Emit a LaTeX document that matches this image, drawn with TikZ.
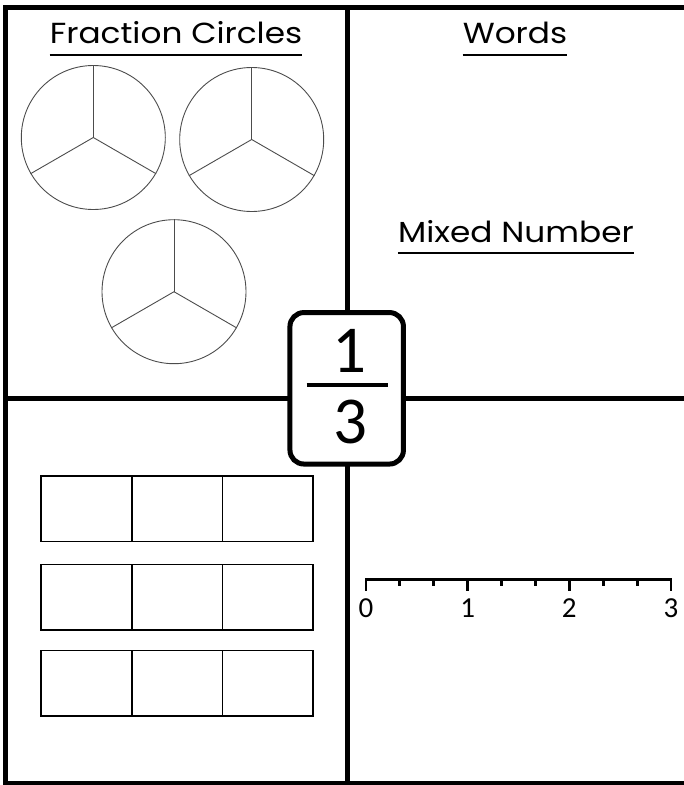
\documentclass[tikz,border=0pt]{standalone}
\usepackage{fontspec}
\newfontfamily\titlefont{Poppins}
\newfontfamily\numfont{Carlito}
\newcommand{\widetitle}[1]{\scalebox{1.13}[1]{#1}}
\begin{document}
\begin{tikzpicture}[x=1pt,y=-1pt,
  frame/.style={line width=5pt},
  pie/.style={draw=black!70, line width=0.9pt},
  barbox/.style={draw=black, line width=1.5pt},
  title/.style={inner sep=0pt, anchor=base, font=\titlefont\fontsize{29}{32}\selectfont},
  uline/.style={line width=2.2pt},
  numlab/.style={inner sep=0pt, anchor=base, font=\numfont\fontsize{29}{32}\selectfont},
  fracnum/.style={inner sep=0pt, anchor=base, font=\numfont\fontsize{67}{72}\selectfont}]
\useasboundingbox (0,0) rectangle (684,785);
% frame
\draw[frame] (684,7) -- (5.5,7) -- (5.5,783) -- (684,783);
\coordinate (vt) at (347,7);
\coordinate (vb) at (347,783);
\coordinate (hl) at (5.5,398);
\coordinate (hr) at (684,398);
\draw[frame] (vt) -- (vb);
\draw[frame] (hl) -- (hr);
% titles
\node[title] (t1) at (176,43) {\widetitle{Fraction Circles}};
\draw[uline] ([yshift=-12pt]t1.base west) -- ([yshift=-12pt]t1.base east);
\node[title] (t2) at (515,43) {\widetitle{Words}};
\draw[uline] ([yshift=-12pt]t2.base west) -- ([yshift=-12pt]t2.base east);
\node[title] (t3) at (516,242) {\widetitle{Mixed Number}};
\draw[uline] ([yshift=-11pt]t3.base west) -- ([yshift=-11pt]t3.base east);
% fraction circles
\foreach \cx/\cy/\n in {93.3/137.5/c1, 251.7/139.5/c2, 174/291.7/c3}{
  \node[pie, circle, minimum size=144pt, inner sep=0pt] (\n) at (\cx,\cy) {};
  \draw[pie] (\n.center) -- (\n.90);
  \draw[pie] (\n.center) -- (\n.210);
  \draw[pie] (\n.center) -- (\n.330);
}
% bar models
\foreach \ty/\r in {475/r1, 563.5/r2, 649.5/r3}{
  \foreach \x/\k in {40/a, 131/b, 221.7/c}{
    \node[barbox, rectangle, anchor=north west, minimum width=90.5pt, minimum height=65.5pt, inner sep=0pt] (\r\k) at (\x,\ty) {};
  }
}
% number line
\coordinate (n0) at (366,579.5);
\coordinate (n3) at (671,579.5);
\draw[line width=2.8pt] (n0) -- (n3);
\foreach \i in {0,...,9}{
  \pgfmathsetmacro{\xx}{366+305*\i/9}
  \pgfmathtruncatemacro{\m}{mod(\i,3)}
  \ifnum\m=0
    \draw[line width=2.8pt] (\xx,578) -- (\xx,591);
  \else
    \draw[line width=2.8pt] (\xx,578) -- (\xx,586);
  \fi
}
\node[numlab] (l0) at (366,617) {0};
\node[numlab] (l1) at (467.7,617) {1};
\node[numlab] (l2) at (569.3,617) {2};
\node[numlab] (l3) at (671,617) {3};
% central fraction box
\node[draw, line width=5pt, fill=white, rounded corners=14pt, minimum width=113.5pt, minimum height=151.5pt, inner sep=0pt] (fb) at (346.7,388.3) {};
\node[fracnum] (f1) at (349,372) {1};
\node[fracnum] (f3) at (350,443) {3};
\draw[line width=4pt] (306.7,385) -- (388,385);
\end{tikzpicture}
\end{document}
